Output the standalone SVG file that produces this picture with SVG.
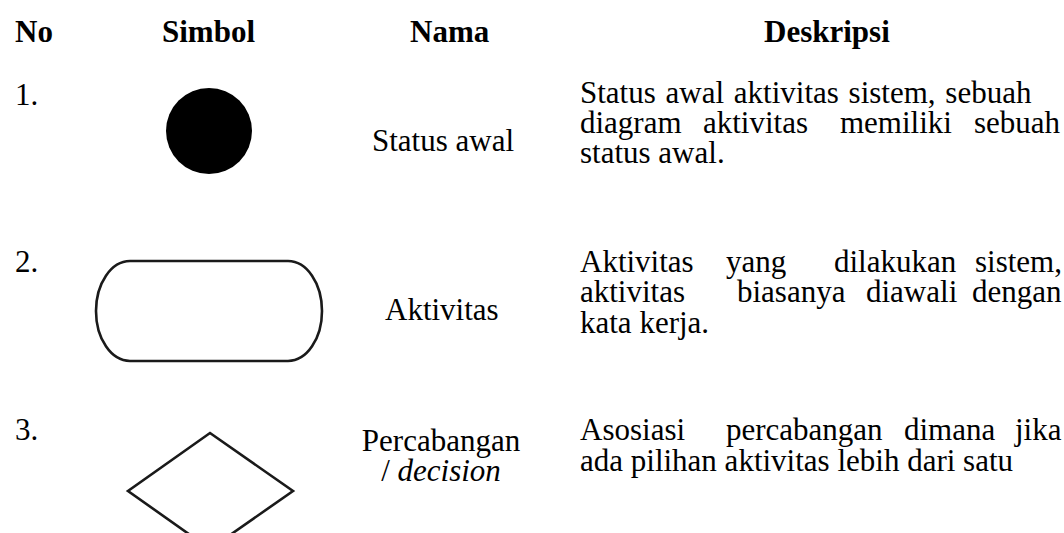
<svg xmlns="http://www.w3.org/2000/svg" width="1064" height="533" viewBox="0 0 1064 533">
  <style>
    text { font-family: "Liberation Serif", "Times New Roman", serif; font-size: 31px; fill: #000; }
    .h { font-weight: bold; }
    .it { font-style: italic; }
    .mid { text-anchor: middle; }
    .sym { fill: #fff; stroke: #1a1a1a; stroke-width: 2.6; }
  </style>
  <rect width="1064" height="533" fill="#fff"/>
  <g id="header">
    <text class="h" x="15" y="42">No</text>
    <text class="h" x="162" y="42">Simbol</text>
    <text class="h" x="410" y="42">Nama</text>
    <text class="h" x="764" y="42">Deskripsi</text>
  </g>
  <g id="connectors"></g>
  <g id="row1">
    <text x="15" y="105">1.</text>
    <circle id="initial-state" cx="209" cy="131" r="43" fill="#000"/>
    <text x="372" y="151">Status awal</text>
    <text x="580" y="103" word-spacing="2">Status awal aktivitas sistem, sebuah</text>
    <text y="133"><tspan x="580">diagram</tspan><tspan x="703">aktivitas</tspan><tspan x="840">memiliki</tspan><tspan x="974">sebuah</tspan></text>
    <text x="580" y="163">status awal.</text>
  </g>
  <g id="row2">
    <text x="15" y="272">2.</text>
    <rect id="activity" class="sym" x="96" y="261" width="226" height="100" rx="34" ry="50"/>
    <text x="385" y="320">Aktivitas</text>
    <text y="272"><tspan x="580">Aktivitas</tspan><tspan x="726">yang</tspan><tspan x="834">dilakukan</tspan><tspan x="975">sistem,</tspan></text>
    <text y="302"><tspan x="580">aktivitas</tspan><tspan x="737">biasanya</tspan><tspan x="866">diawali</tspan><tspan x="972">dengan</tspan></text>
    <text x="580" y="333">kata kerja.</text>
  </g>
  <g id="row3">
    <text x="15" y="440">3.</text>
    <polygon id="decision" class="sym" points="210,433 293,491 210,549 128,491"/>
    <text class="mid" x="441" y="451">Percabangan</text>
    <text class="mid" x="441" y="481">/ <tspan class="it">decision</tspan></text>
    <text y="440"><tspan x="580">Asosiasi</tspan><tspan x="726">percabangan</tspan><tspan x="904">dimana</tspan><tspan x="1015">jika</tspan></text>
    <text x="580" y="471">ada pilihan aktivitas lebih dari satu</text>
  </g>
</svg>
